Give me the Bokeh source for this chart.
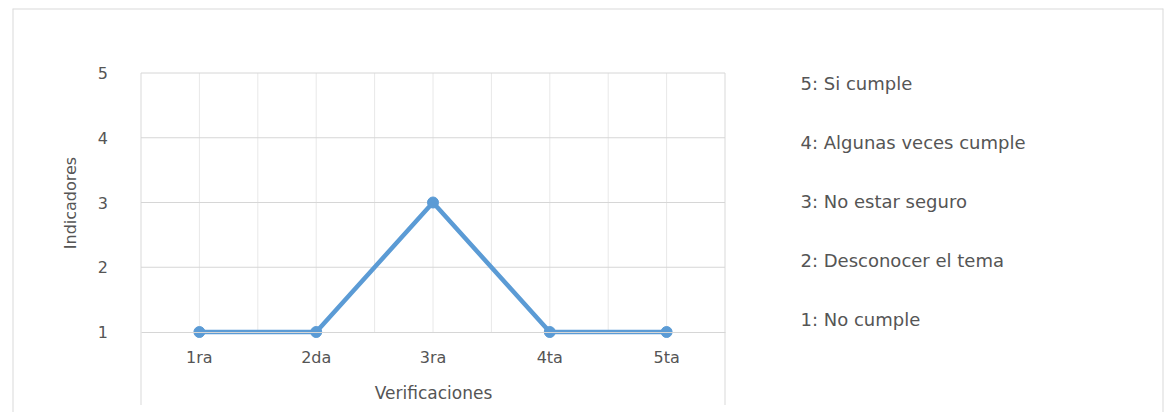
from bokeh.plotting import figure
from bokeh.models import Range1d, FixedTicker
from bokeh.embed import file_html
from bokeh.resources import INLINE
from bokeh.core.properties import value

# ---- data ----
categories = ["1ra", "2da", "3ra", "4ta", "5ta"]
indicadores = [1, 1, 3, 1, 1]
y_ticks = [1, 2, 3, 4, 5]
legend_labels = ["5: Si cumple", "4: Algunas veces cumple", "3: No estar seguro",
                 "2: Desconocer el tema", "1: No cumple"]
x_title = "Verificaciones"
y_title = "Indicadores"

# ---- layout constants (pixels) ----
W, H = 1164, 412
FL, FT, FR, FB = 12, 8, 1163, 412          # frame = outer chart border
PX_X = 116.8                               # pixels per category
PX_Y = 64.75                               # pixels per indicator unit
PLOT_LEFT_PX, PLOT_TOP_PX = 140.5, 72.5

x_pos = list(range(1, len(categories) + 1))
x_lo, x_hi = x_pos[0] - 0.5, x_pos[-1] + 0.5
y_lo, y_hi = y_ticks[0], y_ticks[-1]

x_start = x_lo - (PLOT_LEFT_PX - FL) / PX_X
x_end = x_start + (FR - FL) / PX_X
y_end = y_hi + (PLOT_TOP_PX - FT) / PX_Y
y_start = y_end - (FB - FT) / PX_Y


def px2x(px):
    return x_start + (px - FL) / PX_X


def px2y(py):
    return y_end - (py - FT) / PX_Y


TXT = "#555555"
GRID_H = "#d6d6d6"
GRID_V = "#e8e8e8"
EDGE = "#d9d9d9"
BLUE = "#5B9BD5"
FONT = "DejaVu Sans"

p = figure(width=W, height=H, output_backend="svg", toolbar_location=None,
           title=None, x_range=Range1d(x_start, x_end), y_range=Range1d(y_start, y_end),
           min_border_left=FL, min_border_top=FT, min_border_right=W - FR,
           min_border_bottom=H - FB)
p.outline_line_color = None
p.grid.visible = False
p.background_fill_color = "white"
p.border_fill_color = "white"

# outer border (left, top, right)
p.segment(x0=[x_start, x_start, x_end], y0=[y_start, y_end, y_end],
          x1=[x_start, x_end, x_end], y1=[y_end, y_end, y_start],
          line_color=EDGE, line_width=2)

# vertical inner gridlines (category centres and boundaries)
v_grid = [x_lo + 0.5 * i for i in range(1, 2 * len(categories))]
p.segment(x0=v_grid, y0=[y_lo] * len(v_grid), x1=v_grid, y1=[y_hi] * len(v_grid),
          line_color=GRID_V, line_width=1)
# plot-area side edges extending below the axis
ext = y_lo - 73 / PX_Y
p.segment(x0=[x_lo, x_hi], y0=[y_hi, y_hi], x1=[x_lo, x_hi], y1=[ext, ext],
          line_color=EDGE, line_width=1)
# horizontal gridlines
h_grid = y_ticks[1:]
p.segment(x0=[x_lo] * len(h_grid), y0=h_grid, x1=[x_hi] * len(h_grid), y1=h_grid,
          line_color=GRID_H, line_width=1)

# series
p.line(x_pos, indicadores, line_color=BLUE, line_width=4.5, line_join="round")
p.scatter(x_pos, indicadores, size=11, fill_color=BLUE, line_color=BLUE)

# legend-like texts on the right
leg_x = [px2x(800)] * len(legend_labels)
leg_y = [px2y(83 + 59 * i) for i in range(len(legend_labels))]
p.text(x=leg_x, y=leg_y, text=legend_labels, text_align="left", text_baseline="middle",
       text_font=value(FONT), text_font_size="18px", text_color=TXT)

# x axis
xa = p.xaxis[0]
xa.fixed_location = y_lo
xa.bounds = (x_lo, x_hi)
xa.ticker = FixedTicker(ticks=x_pos)
xa.major_label_overrides = {x: c for x, c in zip(x_pos, categories)}
xa.axis_line_color = GRID_H
xa.major_tick_line_color = None
xa.minor_tick_line_color = None
xa.major_label_standoff = 10
xa.major_label_text_font = FONT
xa.major_label_text_font_size = "16px"
xa.major_label_text_color = TXT
xa.axis_label = x_title
xa.axis_label_standoff = 12
xa.axis_label_text_font = FONT
xa.axis_label_text_font_size = "17px"
xa.axis_label_text_font_style = "normal"
xa.axis_label_text_color = TXT

# y axis
ya = p.yaxis[0]
ya.fixed_location = x_lo
ya.bounds = (y_lo, y_hi)
ya.ticker = FixedTicker(ticks=y_ticks)
ya.axis_line_color = None
ya.major_tick_line_color = None
ya.minor_tick_line_color = None
ya.major_label_standoff = 27
ya.major_label_text_font = FONT
ya.major_label_text_font_size = "16px"
ya.major_label_text_color = TXT
ya.axis_label = y_title
ya.axis_label_standoff = 15
ya.axis_label_text_font = FONT
ya.axis_label_text_font_size = "16px"
ya.axis_label_text_font_style = "normal"
ya.axis_label_text_color = TXT

open("out.html", "w").write(file_html(p, INLINE))
